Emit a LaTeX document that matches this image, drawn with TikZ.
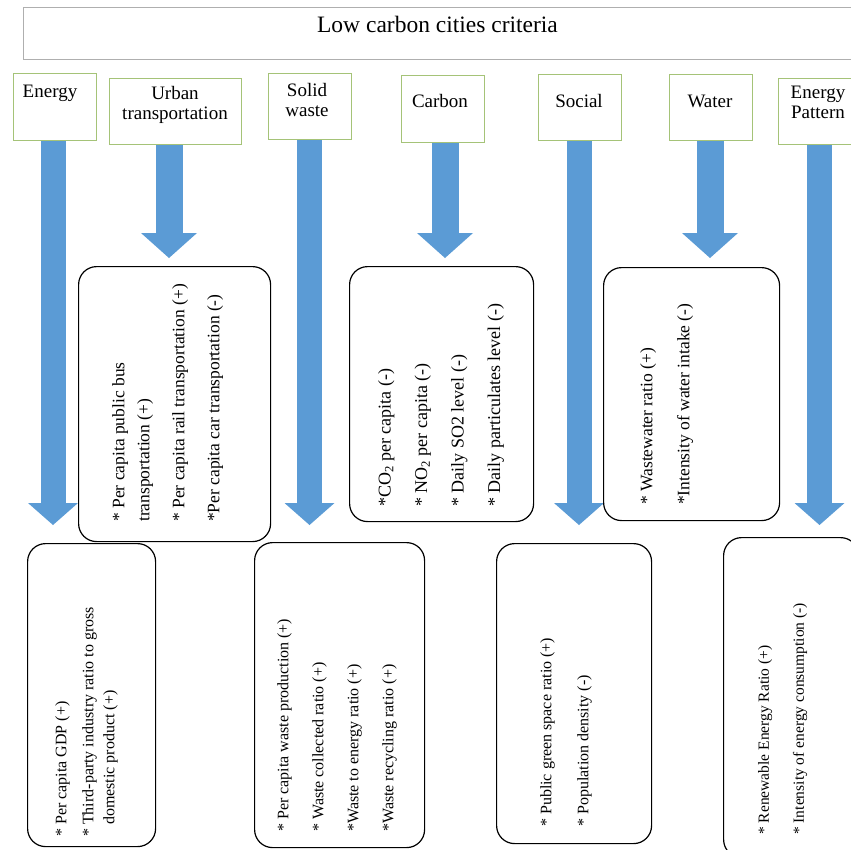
\documentclass[tikz,border=0pt]{standalone}
\usepackage{fontspec}
\setmainfont{Liberation Serif}
\usetikzlibrary{arrows.meta}
\definecolor{arrowblue}{RGB}{91,155,213}
\definecolor{boxgreen}{RGB}{165,195,120}
\definecolor{titlegray}{RGB}{175,175,175}
\begin{document}
\begin{tikzpicture}[x=1pt,y=-1pt,
  titlebox/.style={draw=titlegray, line width=1pt, anchor=north west, inner sep=0},
  catbox/.style={draw=boxgreen, line width=1.1pt, anchor=north west, inner sep=0},
  catlabel/.style={font=\fontsize{19}{20}\selectfont, align=center, inner sep=0},
  roundbox/.style={draw=black, line width=1.2pt, rounded corners=18pt, anchor=north west, inner sep=0},
  rottext/.style={rotate=90, anchor=north west, align=left, inner sep=0},
  longarrow/.style={draw=arrowblue, line width=25pt, -{Triangle[width=50pt,length=22pt,line width=0pt,color=arrowblue]}},
  shortarrow/.style={draw=arrowblue, line width=27pt, -{Triangle[width=56pt,length=25pt,line width=0pt,color=arrowblue]}}
]
\useasboundingbox (0,0) rectangle (851,849);
\clip (0,0) rectangle (851,849);

% title
\node[titlebox, minimum width=840pt, minimum height=52pt] (title) at (23,7) {};
\node[font=\fontsize{23.5}{25}\selectfont, anchor=base, inner sep=0] (ltitle) at (437.5,32) {Low carbon cities criteria};

% category boxes
\node[catbox, minimum width=83pt, minimum height=67pt] (cEnergy) at (13,73) {};
\node[catbox, minimum width=132pt, minimum height=66pt] (cUrban) at (109,78) {};
\node[catbox, minimum width=83pt, minimum height=66pt] (cWaste) at (268,73) {};
\node[catbox, minimum width=83pt, minimum height=67pt] (cCarbon) at (401,75) {};
\node[catbox, minimum width=83pt, minimum height=66pt] (cSocial) at (538,74) {};
\node[catbox, minimum width=83pt, minimum height=66pt] (cWater) at (669,74) {};
\node[catbox, minimum width=85pt, minimum height=66pt] (cPattern) at (778,78) {};

\node[catlabel, anchor=base] (lEnergy) at (50,97) {Energy};
\node[catlabel, anchor=north] (lUrban) at (175,86) {Urban\\transportation};
\node[catlabel, anchor=north] (lWaste) at (307,83) {Solid\\waste};
\node[catlabel, anchor=base] (lCarbon) at (440,107) {Carbon};
\node[catlabel, anchor=base] (lSocial) at (579,107) {Social};
\node[catlabel, anchor=base] (lWater) at (710,107) {Water};
\node[catlabel, anchor=north] (lPattern) at (818,86) {Energy\\Pattern};

% arrow tips
\coordinate (aEnergy) at (53,525);
\coordinate (aUrban) at (169,258);
\coordinate (aWaste) at (309.5,525);
\coordinate (aCarbon) at (445,258);
\coordinate (aSocial) at (579,525);
\coordinate (aWater) at (710,258);
\coordinate (aPattern) at (819.5,525);

\draw[longarrow] (cEnergy.south -| aEnergy) -- (aEnergy);
\draw[shortarrow] (cUrban.south -| aUrban) -- (aUrban);
\draw[longarrow] (cWaste.south -| aWaste) -- (aWaste);
\draw[shortarrow] (cCarbon.south -| aCarbon) -- (aCarbon);
\draw[longarrow] (cSocial.south -| aSocial) -- (aSocial);
\draw[shortarrow] (cWater.south -| aWater) -- (aWater);
\draw[longarrow] (cPattern.south -| aPattern) -- (aPattern);

% rounded boxes
\node[roundbox, minimum width=192pt, minimum height=275pt] (bUrban) at (78,266) {};
\node[roundbox, minimum width=184pt, minimum height=255pt] (bCarbon) at (349,266) {};
\node[roundbox, minimum width=176pt, minimum height=253pt] (bWater) at (603,267) {};
\node[roundbox, minimum width=128pt, minimum height=303pt] (bEnergy) at (27,543) {};
\node[roundbox, minimum width=170pt, minimum height=305pt] (bWaste) at (254,542) {};
\node[roundbox, minimum width=155pt, minimum height=300pt] (bSocial) at (496,543) {};
\node[roundbox, minimum width=135pt, minimum height=320pt] (bPattern) at (723,537) {};

% texts
\node[rottext, font=\fontsize{17.5}{25}\selectfont] (tUrban) at (112,522)
  {* Per capita public bus\\transportation (+)\\[10pt]* Per capita rail transportation (+)\\[10pt]*Per capita car transportation (-)};
\node[rottext, font=\fontsize{18}{36.5}\selectfont] (tCarbon) at (378,507)
  {*CO\textsubscript{2} per capita (-)\\* NO\textsubscript{2} per capita (-)\\* Daily SO2 level (-)\\* Daily particulates level (-)};
\node[rottext, font=\fontsize{17.5}{37}\selectfont] (tWater) at (640,505)
  {* Wastewater ratio (+)\\*Intensity of water intake (-)};
\node[rottext, font=\fontsize{16}{21}\selectfont] (tEnergy) at (55,837)
  {* Per capita GDP (+)\\[6pt]* Third-party industry ratio to gross\\\hphantom{* }domestic product (+)};
\node[rottext, font=\fontsize{16}{35}\selectfont] (tWaste) at (277,832)
  {* Per capita waste production (+)\\* Waste collected ratio (+)\\*Waste to energy ratio (+)\\*Waste recycling ratio (+)};
\node[rottext, font=\fontsize{16}{37}\selectfont] (tSocial) at (540,827)
  {* Public green space ratio (+)\\* Population density (-)};
\node[rottext, font=\fontsize{15.5}{35}\selectfont] (tPattern) at (758,835)
  {* Renewable Energy Ratio (+)\\* Intensity of energy consumption (-)};
\end{tikzpicture}
\end{document}
